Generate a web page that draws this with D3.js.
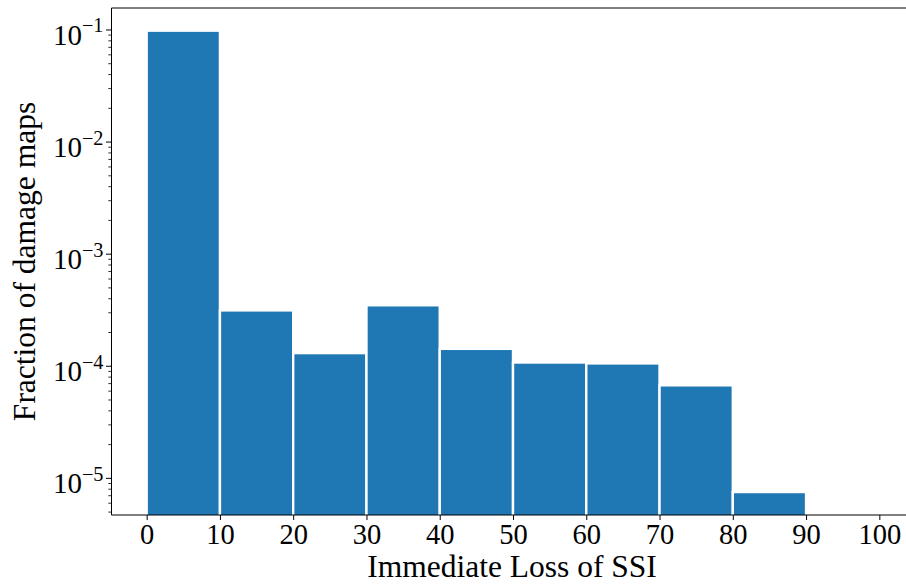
<!DOCTYPE html>
<html>
<head>
<meta charset="utf-8">
<script src="https://cdn.jsdelivr.net/npm/d3@7"></script>
<style>
  html, body { margin: 0; padding: 0; background: #fff; }
  svg { display: block; font-family: "Liberation Serif", "Times New Roman", serif; }
</style>
</head>
<body>
<svg id="chart" width="906" height="588"></svg>
<script>
// ---- data ----
const binStarts = [0, 10, 20, 30, 40, 50, 60, 70, 80, 90];
const binWidth = 10;
const fractions = [0.0986, 3.15e-4, 1.31e-4, 3.50e-4, 1.43e-4, 1.08e-4, 1.06e-4, 6.76e-5, 7.55e-6, 0];
const xTicks = [0, 10, 20, 30, 40, 50, 60, 70, 80, 90, 100];
const yTickExponents = [-1, -2, -3, -4, -5];
const xLabel = "Immediate Loss of SSI";
const yLabel = "Fraction of damage maps";

(function () {
// ---- layout ----
const pLeft = 111.5, pRight = 914.5, pTop = 8, pBottom = 515;
const svg = d3.select("#chart");

const x = d3.scaleLinear().domain([-4.8, 104.8]).range([pLeft, pRight]);
const y = d3.scaleLog().domain([Math.pow(10, -5.327), Math.pow(10, -0.804)]).range([pBottom, pTop]);

// clip
svg.append("clipPath").attr("id", "clip")
  .append("rect").attr("x", pLeft).attr("y", pTop).attr("width", pRight - pLeft).attr("height", pBottom - pTop);

// bars
svg.append("g").attr("clip-path", "url(#clip)")
  .selectAll("rect").data(binStarts.map((s, i) => ({s, v: fractions[i]})).filter(d => d.v > 0))
  .enter().append("rect")
  .attr("x", d => x(d.s))
  .attr("width", d => x(d.s + binWidth) - x(d.s))
  .attr("y", d => y(d.v))
  .attr("height", d => pBottom + 5 - y(d.v))
  .attr("fill", "#1f77b4")
  .attr("stroke", "#ffffff")
  .attr("stroke-width", 2.4);

// x axis
const xAxis = d3.axisBottom(x).tickValues(xTicks).tickSize(5).tickPadding(4);
const gx = svg.append("g").attr("transform", `translate(0,${pBottom})`).call(xAxis);
gx.select(".domain").remove();
gx.selectAll(".tick line").attr("stroke", "#000").attr("stroke-width", 1);
gx.selectAll(".tick text")
  .attr("font-family", "Liberation Serif, Times New Roman, serif")
  .attr("font-size", 28.5).attr("fill", "#000")
  .attr("dy", null).attr("y", 28.5);

// y axis: major ticks
const gy = svg.append("g");
const majors = yTickExponents.map(e => Math.pow(10, e));
gy.selectAll("line.major").data(majors).enter().append("line")
  .attr("x1", pLeft - 5.5).attr("x2", pLeft)
  .attr("y1", d => y(d)).attr("y2", d => y(d))
  .attr("stroke", "#000").attr("stroke-width", 1);
// minor ticks
const dom = y.domain();
const minors = [];
for (let e = -6; e <= 0; e++) {
  for (let m = 2; m <= 9; m++) {
    const v = m * Math.pow(10, e);
    if (v >= dom[0] && v <= dom[1]) minors.push(v);
  }
}
gy.selectAll("line.minor").data(minors).enter().append("line")
  .attr("x1", pLeft - 3.2).attr("x2", pLeft)
  .attr("y1", d => y(d)).attr("y2", d => y(d))
  .attr("stroke", "#000").attr("stroke-width", 0.8);

// y tick labels (10^e)
const labels = gy.selectAll("text.ylab").data(yTickExponents).enter().append("text")
  .attr("x", 103.5)
  .attr("y", d => y(Math.pow(10, d)) + 15)
  .attr("text-anchor", "end")
  .attr("fill", "#000");
labels.append("tspan").attr("font-size", 29).text("10");
labels.append("tspan").attr("font-size", 20.3).attr("dy", -12.5).text(d => "\u2212" + Math.abs(d));

// spines
svg.append("line").attr("x1", pLeft).attr("x2", pLeft).attr("y1", pTop).attr("y2", pBottom).attr("stroke", "#000").attr("stroke-width", 1);
svg.append("line").attr("x1", pLeft).attr("x2", pRight).attr("y1", pBottom).attr("y2", pBottom).attr("stroke", "#000").attr("stroke-width", 1);
svg.append("line").attr("x1", pLeft).attr("x2", pRight).attr("y1", pTop).attr("y2", pTop).attr("stroke", "#000").attr("stroke-width", 1);
svg.append("line").attr("x1", pRight).attr("x2", pRight).attr("y1", pTop).attr("y2", pBottom).attr("stroke", "#000").attr("stroke-width", 1);

// axis labels
svg.append("text").attr("x", 512).attr("y", 577).attr("text-anchor", "middle")
  .attr("font-size", 31.5).attr("fill", "#000").text(xLabel);
svg.append("text").attr("transform", `translate(35,${(pTop + pBottom) / 2}) rotate(-90)`)
  .attr("text-anchor", "middle").attr("font-size", 31.5).attr("fill", "#000").text(yLabel);
})();
</script>
</body>
</html>
